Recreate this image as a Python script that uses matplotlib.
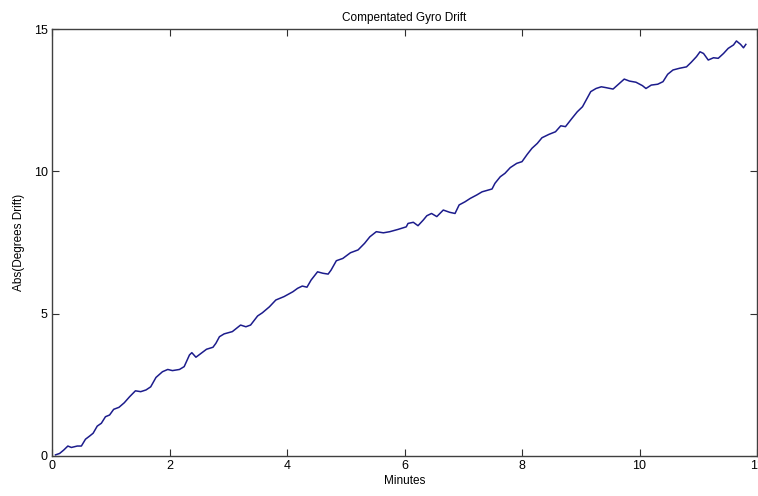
import numpy as np
import matplotlib
matplotlib.use('Agg')
import matplotlib.pyplot as plt

# (minutes, degrees)
minutes = [0.06, 0.13, 0.20, 0.27, 0.33, 0.43, 0.50, 0.57, 0.64, 0.70,
           0.77, 0.84, 0.91, 0.98, 1.05, 1.14, 1.23, 1.32, 1.42, 1.51,
           1.60, 1.68, 1.77, 1.88, 1.97, 2.05, 2.17, 2.25, 2.34, 2.38,
           2.45, 2.54, 2.63, 2.74, 2.79, 2.85, 2.93, 3.02,
           3.07, 3.21, 3.30, 3.38, 3.50, 3.58, 3.70, 3.81, 3.95, 4.10,
           4.18, 4.26, 4.34, 4.41, 4.52, 4.61, 4.70, 4.75, 4.84, 4.95,
           5.08, 5.21, 5.32, 5.41, 5.52, 5.64, 5.75, 5.89, 6.03,
           6.06, 6.15, 6.23, 6.32, 6.38, 6.46, 6.55, 6.66, 6.77, 6.86,
           6.93, 7.03, 7.12, 7.23, 7.32, 7.42, 7.49, 7.54, 7.63, 7.71,
           7.80, 7.91, 8.00, 8.09, 8.17, 8.26, 8.34, 8.46, 8.57, 8.66,
           8.74, 8.85, 8.94, 9.03,
           9.09, 9.17, 9.26, 9.35, 9.43, 9.55, 9.66, 9.74, 9.83, 9.94,
           10.05, 10.11, 10.20, 10.31, 10.40, 10.48, 10.57, 10.68, 10.80, 10.88,
           10.97, 11.03, 11.09, 11.17, 11.26, 11.34, 11.43, 11.51, 11.60, 11.65,
           11.72, 11.77, 11.81]
drift = [0.04, 0.09, 0.21, 0.35, 0.30, 0.35, 0.35, 0.59, 0.70, 0.80,
         1.05, 1.15, 1.38, 1.44, 1.64, 1.71, 1.87, 2.08, 2.29, 2.26,
         2.32, 2.43, 2.76, 2.96, 3.04, 3.00, 3.04, 3.14, 3.55, 3.63,
         3.47, 3.61, 3.75, 3.82, 3.96, 4.19, 4.29, 4.34,
         4.37, 4.60, 4.54, 4.60, 4.92, 5.03, 5.24, 5.48, 5.60, 5.77,
         5.89, 5.97, 5.93, 6.18, 6.47, 6.42, 6.39, 6.53, 6.86, 6.94,
         7.14, 7.24, 7.47, 7.70, 7.88, 7.84, 7.88, 7.96, 8.05,
         8.17, 8.21, 8.09, 8.29, 8.44, 8.52, 8.41, 8.64, 8.56, 8.52,
         8.82, 8.93, 9.05, 9.17, 9.28, 9.34, 9.38, 9.58, 9.81, 9.93,
         10.13, 10.28, 10.34, 10.60, 10.81, 10.98, 11.18, 11.30, 11.39, 11.60,
         11.57, 11.86, 12.09, 12.27,
         12.50, 12.80, 12.91, 12.97, 12.94, 12.89, 13.09, 13.24, 13.17, 13.13,
         13.01, 12.91, 13.03, 13.06, 13.15, 13.41, 13.56, 13.62, 13.67, 13.83,
         14.03, 14.20, 14.14, 13.91, 13.99, 13.97, 14.14, 14.32, 14.44, 14.58,
         14.46, 14.34, 14.46]

xticks = [0, 2, 4, 6, 8, 10, 12]
yticks = [0, 5, 10, 15]

plt.rcParams['font.family'] = ['Liberation Sans', 'DejaVu Sans']

fig = plt.figure(figsize=(7.58, 4.96), dpi=100)
ax = fig.add_axes([52 / 758, 40 / 496, 705 / 758, 427 / 496])

ax.plot(minutes, drift, color='#1c1c8c', lw=1.1)

ax.set_xlim(0, 12)
ax.set_ylim(0, 15)
ax.set_xticks(xticks)
ax.set_yticks(yticks)
ax.tick_params(direction='in', top=True, right=True, length=5,
               labelsize=9, color='#303030', pad=3)
for s in ax.spines.values():
    s.set_color('#404040')
    s.set_linewidth(1.0)

ax.set_title('Compentated Gyro Drift', fontsize=8.5, pad=6)
ax.set_xlabel('Minutes', fontsize=8.5, labelpad=2)
ax.set_ylabel('Abs(Degrees Drift)', fontsize=8.5, labelpad=6)

fig.savefig('out.png', dpi=100)
